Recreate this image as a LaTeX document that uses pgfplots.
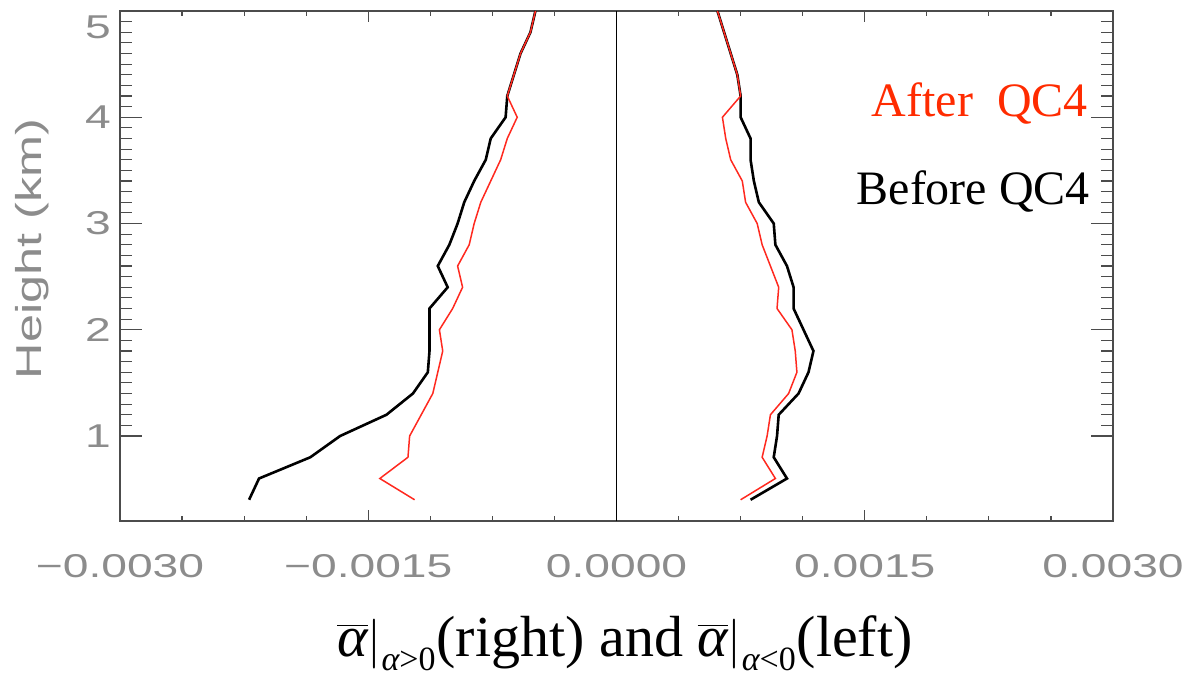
\documentclass[border=0pt]{standalone}
\usepackage{fontspec}
\usepackage{pgfplots}
\pgfplotsset{compat=1.18}
\usepackage{pgfplotstable}
\setmainfont{Liberation Serif}
\newfontfamily\idl[FakeStretch=1.4]{Liberation Sans}
\definecolor{idlgray}{rgb}{0.55,0.55,0.55}
\definecolor{framegray}{rgb}{0.30,0.30,0.30}
\definecolor{qcred}{rgb}{1.0,0.16,0.12}
\definecolor{txtred}{rgb}{1.0,0.17,0.0}

% height (km), mean alpha
\pgfplotstableread{
h x
0.4 -0.00222
0.6 -0.00216
0.8 -0.00185
1.0 -0.00167
1.2 -0.00139
1.4 -0.00123
1.6 -0.00114
1.8 -0.00113
2.0 -0.00113
2.2 -0.00113
2.4 -0.00102
2.6 -0.00108
2.8 -0.00101
3.0 -0.00096
3.2 -0.00092
3.4 -0.00086
3.6 -0.00079
3.8 -0.00076
4.0 -0.00067
4.2 -0.00066
4.4 -0.00062
4.6 -0.00058
4.8 -0.00052
5.0 -0.00049
}\beforeleft
\pgfplotstableread{
h x
0.4 -0.00122
0.6 -0.00143
0.8 -0.00126
1.0 -0.00125
1.2 -0.00118
1.4 -0.00111
1.6 -0.00108
1.8 -0.00105
2.0 -0.00107
2.2 -0.00099
2.4 -0.00093
2.6 -0.00096
2.8 -0.00089
3.0 -0.00086
3.2 -0.00082
3.4 -0.00076
3.6 -0.00070
3.8 -0.00066
4.0 -0.00060
4.2 -0.00066
4.4 -0.00062
4.6 -0.00058
4.8 -0.00052
5.0 -0.00049
}\afterleft
\pgfplotstableread{
h x
0.4 0.00081
0.6 0.00103
0.8 0.00095
1.0 0.00097
1.2 0.00098
1.4 0.00110
1.6 0.00116
1.8 0.00119
2.0 0.00113
2.2 0.00107
2.4 0.00107
2.6 0.00103
2.8 0.00096
3.0 0.00095
3.2 0.00086
3.4 0.00083
3.6 0.00081
3.8 0.00081
4.0 0.00075
4.2 0.00075
4.4 0.00073
4.6 0.00069
4.8 0.00065
5.0 0.00061
}\beforeright
\pgfplotstableread{
h x
0.4 0.00075
0.6 0.00096
0.8 0.00088
1.0 0.00091
1.2 0.00093
1.4 0.00104
1.6 0.00109
1.8 0.00108
2.0 0.00106
2.2 0.00097
2.4 0.00098
2.6 0.00093
2.8 0.00088
3.0 0.00085
3.2 0.00078
3.4 0.00076
3.6 0.00069
3.8 0.00066
4.0 0.00064
4.2 0.00075
4.4 0.00073
4.6 0.00069
4.8 0.00065
5.0 0.00061
}\afterright

\begin{document}
\begin{tikzpicture}
\useasboundingbox (-60pt,-80pt) rectangle (533.5pt,260.5pt);
\begin{axis}[
  at={(0,0)}, anchor=south west,
  scale only axis,
  width=496.5pt, height=255pt,
  xmin=-0.003, xmax=0.003,
  ymin=0.2, ymax=5,
  scaled x ticks=false,
  xtick={-0.003,-0.0015,0,0.0015,0.003},
  xticklabels={−0.0030,−0.0015,0.0000,0.0015,0.0030},
  ytick={1,2,3,4,5},
  yticklabels={1,2,3,4,\raisebox{-8pt}[11.8pt][0pt]{5}},
  minor x tick num=3,
  minor y tick num=9,
  tick align=inside,
  xtick style={/pgfplots/major tick length=5.5pt,/pgfplots/minor tick length=2.5pt,line width=0.6pt,color=framegray},
  ytick style={/pgfplots/major tick length=11pt,/pgfplots/minor tick length=6pt,line width=0.6pt,color=framegray},
  axis line style={line width=0.7pt,color=framegray},
  ticklabel style={font=\idl\fontsize{16.5}{18}\selectfont, text=idlgray},
  xticklabel style={yshift=-13pt},
  yticklabel style={xshift=-1pt},
  clip=false,
]
\addplot[black, line width=0.5pt] coordinates {(0,0.2) (0,5)};
\addplot[black, line width=1.3pt] table[x=x,y=h] {\beforeleft};
\addplot[black, line width=1.3pt] table[x=x,y=h] {\beforeright};
\addplot[qcred, line width=0.75pt] table[x=x,y=h] {\afterleft};
\addplot[qcred, line width=0.75pt] table[x=x,y=h] {\afterright};
\end{axis}
\node[rotate=90, text=idlgray, font=\idl\fontsize{18}{20}\selectfont] at (-44pt,136pt) {Height (km)};
\node[anchor=base east, text=txtred, font=\fontsize{24}{26}\selectfont] at (487.5pt,202pt) {After\ \ QC4};
\node[anchor=base east, text=black, font=\fontsize{24}{26}\selectfont] at (488.5pt,158.5pt) {Before QC4};
\node[anchor=base, font=\fontsize{29}{32}\selectfont, inner sep=0pt] at (252.5pt,-67.5pt)
  {$\overline{\mbox{\itshape α}}\Bigg|_{\mbox{\fontsize{17}{18}\selectfont\itshape α\upshape{>}0}}$(right) and $\overline{\mbox{\itshape α}}\Bigg|_{\mbox{\fontsize{17}{18}\selectfont\itshape α\upshape{<}0}}$(left)};
\end{tikzpicture}
\end{document}
